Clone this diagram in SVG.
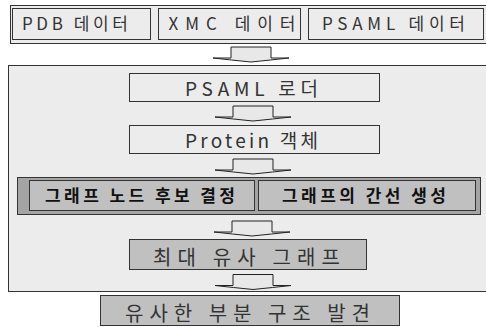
<svg xmlns="http://www.w3.org/2000/svg" xmlns:xlink="http://www.w3.org/1999/xlink" width="486" height="327" viewBox="0 0 486 327">
<style>
  .lt { fill:#ececec; stroke:#333; stroke-width:1; }
  .md { fill:#c0c0c0; stroke:#333; stroke-width:1; }
  .dk { fill:#a4a4a4; stroke:#333; stroke-width:1; }
  .t { font-family:"Noto Sans CJK KR","Liberation Sans",sans-serif; fill:#333; text-anchor:middle; }
  .b { font-weight:bold; fill:#111; }
  .arr { fill:#e8e8e8; stroke:#222; stroke-width:1; }
</style>
<defs>
  <path id="arrow" d="M-20,0 H20 V11 H38 Q20,13 0,15 Q-20,13 -38,11 H-20 Z"/>
</defs>
<rect x="0" y="0" width="486" height="327" fill="#fff"/>
<g id="sources">
  <rect class="lt" x="10.5" y="5.5" width="476" height="38"/>
  <g id="pdb">
    <rect class="lt" x="12.5" y="8.5" width="138" height="31"/>
    <text class="t" x="75" y="30" font-size="17" textLength="106" lengthAdjust="spacing">PDB 데이터</text>
  </g>
  <g id="xmc">
    <rect class="lt" x="158.5" y="8.5" width="142" height="31"/>
    <text class="t" x="232" y="30" font-size="17" textLength="127" lengthAdjust="spacing">XMC 데이터</text>
  </g>
  <g id="psaml-data">
    <rect class="lt" x="308.5" y="8.5" width="175" height="31"/>
    <text class="t" x="393.5" y="30" font-size="17" textLength="143" lengthAdjust="spacing">PSAML 데이터</text>
  </g>
</g>
<g id="process">
  <rect class="lt" x="8.5" y="65.5" width="478" height="226"/>
</g>
<g id="loader">
  <rect class="lt" x="129.5" y="73.5" width="250" height="28"/>
  <text class="t" x="251.5" y="95.5" font-size="19" textLength="133" lengthAdjust="spacing">PSAML 로더</text>
</g>
<g id="protein">
  <rect class="lt" x="129.5" y="125.5" width="250" height="28"/>
  <text class="t" x="251.5" y="148" font-size="19" textLength="133" lengthAdjust="spacing">Protein 객체</text>
</g>
<g id="graph-row">
  <rect class="dk" x="17.5" y="177.5" width="463" height="37"/>
  <g id="node-candidate">
    <rect class="md" x="29.5" y="180.5" width="225" height="30"/>
    <text class="t b" x="140" y="202" font-size="17" textLength="190" lengthAdjust="spacing">그래프 노드 후보 결정</text>
  </g>
  <g id="edge-gen">
    <rect class="md" x="258.5" y="180.5" width="217" height="30"/>
    <text class="t b" x="364" y="202" font-size="17" textLength="164" lengthAdjust="spacing">그래프의 간선 생성</text>
  </g>
</g>
<g id="max-graph">
  <rect class="md" x="129.5" y="239.5" width="237" height="30"/>
  <text class="t" x="246.5" y="265" font-size="20" textLength="187" lengthAdjust="spacing">최대 유사 그래프</text>
</g>
<g id="result">
  <rect class="md" x="100.5" y="295.5" width="299" height="30"/>
  <text class="t" x="247.5" y="320.5" font-size="20" textLength="245" lengthAdjust="spacing">유사한 부분 구조 발견</text>
</g>
<g id="connectors">
  <use xlink:href="#arrow" class="arr" transform="translate(251,47)"/>
  <use xlink:href="#arrow" class="arr" transform="translate(253,106)"/>
  <use xlink:href="#arrow" class="arr" transform="translate(253,159)"/>
  <use xlink:href="#arrow" class="arr" transform="translate(252,221)"/>
  <use xlink:href="#arrow" class="arr" transform="translate(253,274.5)"/>
</g>
</svg>
